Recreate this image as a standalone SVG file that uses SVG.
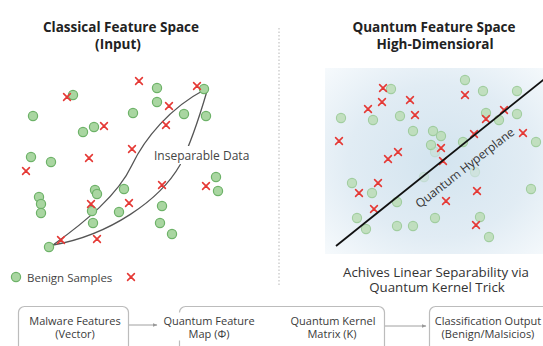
<svg xmlns="http://www.w3.org/2000/svg" width="543" height="346" viewBox="0 0 543 346">
  <style>
    text { font-family: "Open Sans", "Liberation Sans", sans-serif; }
    .title { font-size: 13.5px; font-weight: 700; fill: #222; text-anchor: middle; }
    .caption { font-size: 13.3px; fill: #333; text-anchor: middle; }
    .label { font-size: 12px; fill: #444; }
    .box { fill: #fff; stroke: #bcbcbc; stroke-width: 1.2; }
    .boxtext { font-size: 11px; font-weight: 500; fill: #3a3a3a; text-anchor: middle; }
    .dot { fill: #a9d6a1; stroke: #6db268; stroke-width: 1.2; }
    .qdot { fill: #b9dcb2; stroke: #91c68a; stroke-width: 1.1; opacity: 0.8; }
    .faint { opacity: 0.35; }
    .xm { stroke: #e53935; stroke-width: 1.6; fill: none; stroke-linecap: round; }
    .curve { fill: none; stroke: #555; stroke-width: 1.3; }
    .conn { stroke: #a0a0a0; stroke-width: 1; fill: none; }
  </style>
  <defs>
    <circle id="d" r="4.6"/>
    <path id="x" d="M-3.4,-3.4L3.4,3.4M3.4,-3.4L-3.4,3.4"/>
    <radialGradient id="qbg" cx="0.52" cy="0.5" r="0.75">
      <stop offset="0" stop-color="#d3e4ef"/>
      <stop offset="0.55" stop-color="#e1ecf4"/>
      <stop offset="1" stop-color="#f8fbfd"/>
    </radialGradient>
    <marker id="ah" viewBox="0 0 6 6" refX="5" refY="3" markerWidth="5" markerHeight="5" orient="auto">
      <path d="M0,0.8L5.5,3L0,5.2z" fill="#999"/>
    </marker>
  </defs>

  <rect width="543" height="346" fill="#fff"/>

  <!-- Titles -->
  <text class="title" x="121" y="31.5">Classical Feature Space</text>
  <text class="title" x="118" y="48.5">(Input)</text>
  <text class="title" x="434" y="31.5">Quantum Feature Space</text>
  <text class="title" x="435" y="48.5">High-Dimensioral</text>

  <!-- Divider -->
  <line x1="279" y1="28" x2="279" y2="286" stroke="#c4c4c4" stroke-width="1.2" stroke-dasharray="1.5,2"/>

  <!-- Classical space -->
  <g id="classical-space">
    <path class="curve" d="M53,245 C85,222 118,195 132,165 C145,138 170,108 204,90"/>
    <path class="curve" d="M53,245 C110,235 160,200 180,165 C190,145 200,115 207,91"/>
    <rect x="153" y="146" width="97" height="18" fill="#fff"/>
    <text class="label" x="154" y="160">Inseparable Data</text>
    <g class="dot">
      <use href="#d" x="157" y="88"/><use href="#d" x="204" y="89"/><use href="#d" x="73" y="95"/>
      <use href="#d" x="157" y="102"/><use href="#d" x="33" y="116"/><use href="#d" x="133" y="113"/>
      <use href="#d" x="184" y="114"/><use href="#d" x="206" y="116"/><use href="#d" x="83" y="132"/>
      <use href="#d" x="94" y="127"/><use href="#d" x="31" y="157"/><use href="#d" x="51" y="162"/>
      <use href="#d" x="216" y="177"/><use href="#d" x="218" y="191"/><use href="#d" x="39" y="197"/>
      <use href="#d" x="95" y="190"/><use href="#d" x="97" y="194"/><use href="#d" x="124" y="189"/>
      <use href="#d" x="41" y="204"/><use href="#d" x="162" y="206"/><use href="#d" x="41" y="213"/>
      <use href="#d" x="92" y="211"/><use href="#d" x="119" y="212"/><use href="#d" x="160" y="223"/>
      <use href="#d" x="93" y="223"/><use href="#d" x="172" y="234"/><use href="#d" x="49" y="247"/>
    </g>
    <g class="xm">
      <use href="#x" x="139" y="81"/><use href="#x" x="197" y="86"/><use href="#x" x="67" y="97"/>
      <use href="#x" x="169" y="106"/><use href="#x" x="166" y="125"/><use href="#x" x="104" y="126"/>
      <use href="#x" x="132" y="149"/><use href="#x" x="89" y="158"/><use href="#x" x="26" y="171"/>
      <use href="#x" x="162" y="185"/><use href="#x" x="206" y="186"/><use href="#x" x="91" y="204"/>
      <use href="#x" x="129" y="203"/><use href="#x" x="61" y="240"/><use href="#x" x="97" y="239"/>
    </g>
    <!-- Legend -->
    <use href="#d" class="dot" x="16" y="277"/>
    <text x="27" y="281.5" font-size="11.5" fill="#444">Benign Samples</text>
    <use href="#x" class="xm" x="131" y="277"/>
  </g>

  <!-- Quantum space -->
  <g id="quantum-space">
    <rect x="325" y="68" width="218" height="186" fill="url(#qbg)"/>
    <g class="qdot">
      <use href="#d" x="465" y="80"/><use href="#d" x="391" y="89"/><use href="#d" x="483" y="91"/>
      <use href="#d" x="517" y="91"/><use href="#d" x="341" y="118"/><use href="#d" x="373" y="120"/>
      <use href="#d" x="400" y="116"/><use href="#d" x="486" y="113"/><use href="#d" x="517" y="114"/>
      <use href="#d" x="499" y="120"/><use href="#d" x="413" y="131"/><use href="#d" x="433" y="131"/>
      <use href="#d" x="441" y="136"/><use href="#d" x="536" y="142"/><use href="#d" x="463" y="142"/>
      <use href="#d" x="431" y="145"/><use href="#d" x="352" y="183"/><use href="#d" x="372" y="193"/>
      <use href="#d" x="397" y="202"/><use href="#d" x="531" y="189"/><use href="#d" x="357" y="218"/>
      <use href="#d" x="366" y="229"/><use href="#d" x="397" y="226"/><use href="#d" x="413" y="226"/>
      <use href="#d" x="435" y="218"/><use href="#d" x="480" y="217"/><use href="#d" x="489" y="237"/>
      <use href="#d" class="faint" x="435" y="152"/><use href="#d" class="faint" x="475" y="172"/>
      <use href="#d" class="faint" x="424" y="177"/>
    </g>
    <g class="xm">
      <use href="#x" x="383" y="88"/><use href="#x" x="465" y="95"/><use href="#x" x="382" y="102"/>
      <use href="#x" x="410" y="100"/><use href="#x" x="368" y="109"/><use href="#x" x="415" y="115"/>
      <use href="#x" x="504" y="110"/><use href="#x" x="486" y="119"/><use href="#x" x="474" y="134"/>
      <use href="#x" x="523" y="133"/><use href="#x" x="339" y="141"/><use href="#x" x="441" y="148"/>
      <use href="#x" x="398" y="152"/><use href="#x" x="388" y="159"/><use href="#x" x="443" y="161"/>
      <use href="#x" x="378" y="183"/><use href="#x" x="359" y="193"/><use href="#x" x="446" y="201"/>
      <use href="#x" x="477" y="191"/><use href="#x" x="374" y="209"/><use href="#x" x="476" y="225"/>
    </g>
    <line x1="336" y1="246" x2="545" y2="78.5" stroke="#111" stroke-width="1.8"/>
    <text transform="translate(465,168) rotate(-38)" y="4" font-size="12" fill="#333" text-anchor="middle">Quantum Hyperplane</text>
  </g>

  <text class="caption" x="436" y="277">Achives Linear Separability via</text>
  <text class="caption" x="437" y="292">Quantum Kernel Trick</text>

  <!-- Pipeline -->
  <g id="connectors">
    <line class="conn" x1="129" y1="325" x2="157" y2="325" marker-end="url(#ah)"/>
    <line class="conn" x1="260" y1="326" x2="288" y2="326" marker-end="url(#ah)"/>
    <line class="conn" x1="385" y1="326" x2="426" y2="326" marker-end="url(#ah)"/>
  </g>
  <g id="malware-features">
    <rect class="box" x="18.5" y="306.5" width="110" height="50" rx="6"/>
    <text class="boxtext" x="75" y="325">Malware Features</text>
    <text class="boxtext" x="75" y="338">(Vector)</text>
  </g>
  <g id="quantum-kernel-stage">
    <rect class="box" x="179.5" y="306.5" width="205" height="50" rx="6"/>
    <g id="feature-map">
      <rect x="160" y="312.5" width="98" height="28" fill="#fff"/>
      <text class="boxtext" x="209" y="325">Quantum Feature</text>
      <text class="boxtext" x="209" y="338">Map (Φ)</text>
    </g>
    <g id="kernel-matrix">
      <text class="boxtext" x="333" y="325">Quantum Kernel</text>
      <text class="boxtext" x="332" y="338">Matrix (K)</text>
    </g>
  </g>
  <g id="classification-output">
    <rect class="box" x="429.5" y="306.5" width="130" height="50" rx="6"/>
    <text class="boxtext" x="488" y="325">Classification Output</text>
    <text class="boxtext" x="488" y="338">(Benign/Malsicios)</text>
  </g>
</svg>
